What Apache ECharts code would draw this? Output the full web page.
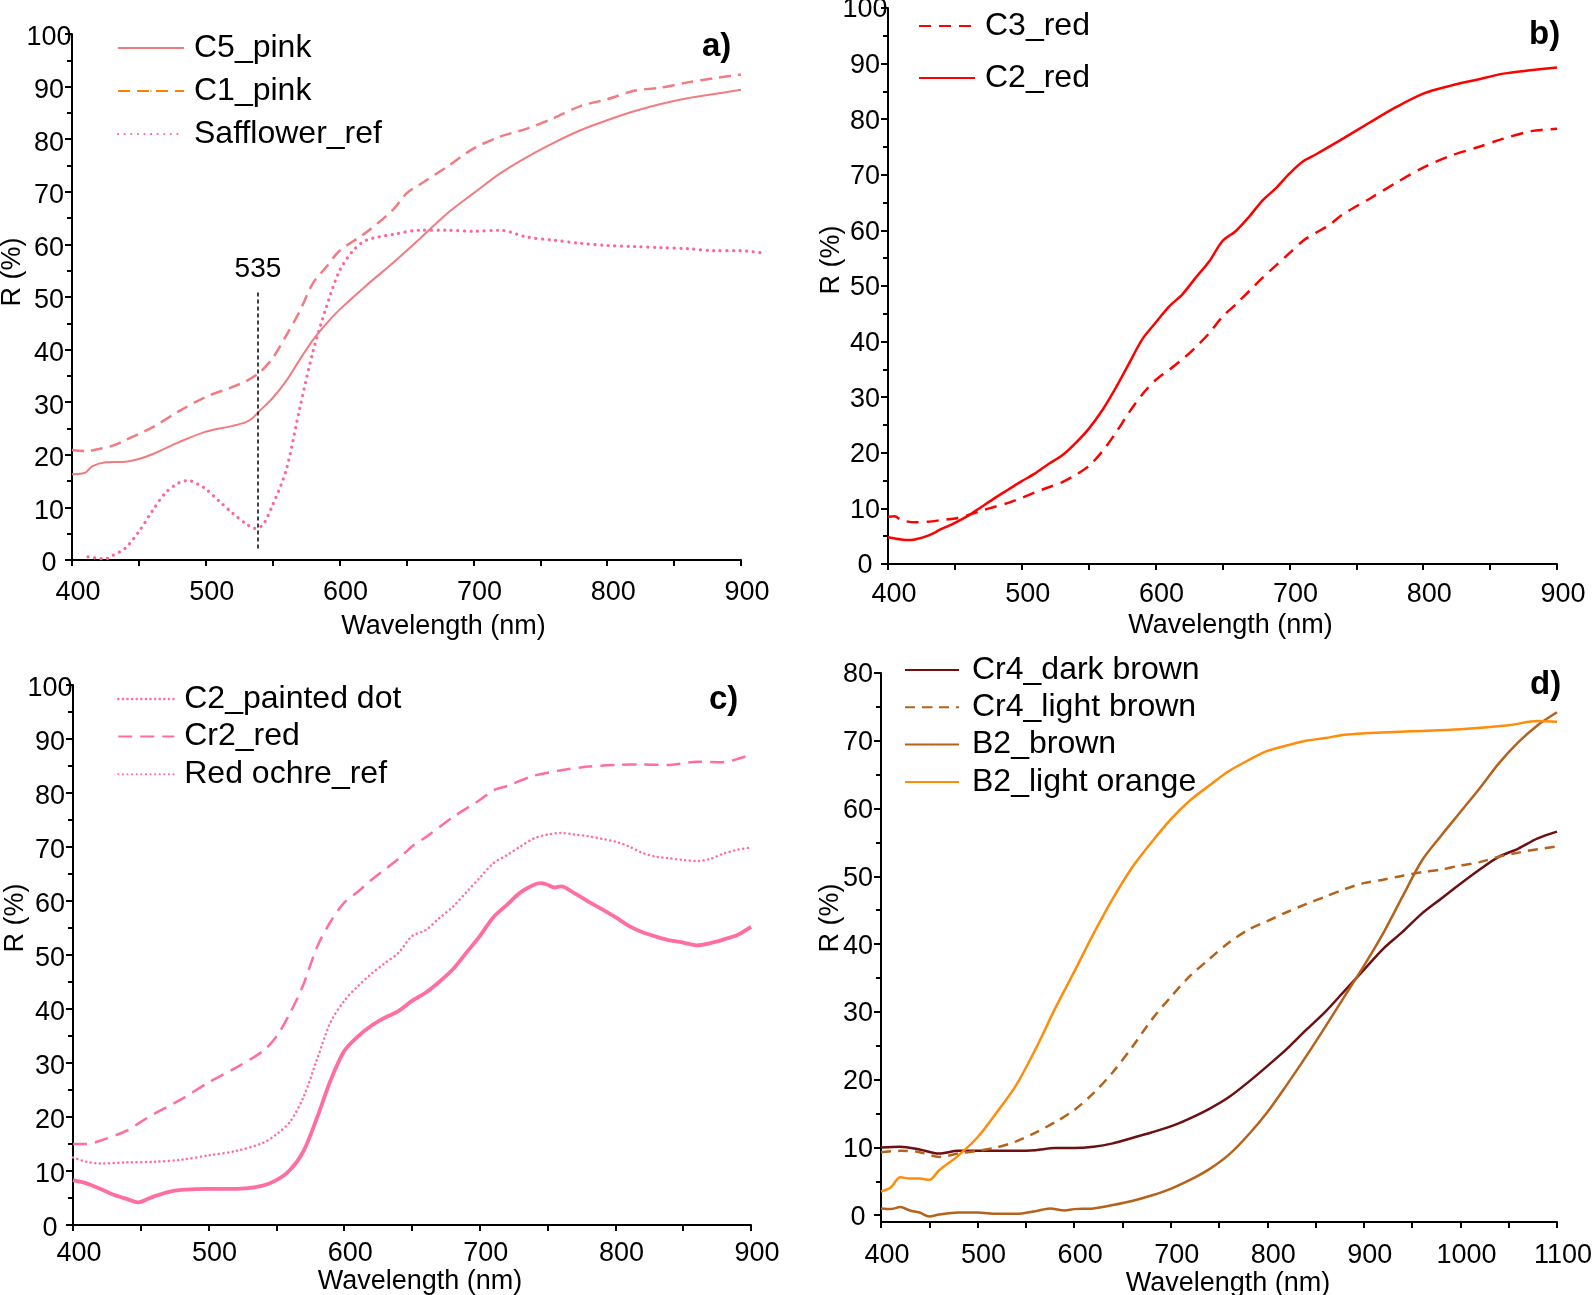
<!DOCTYPE html>
<html>
<head>
<meta charset="utf-8">
<script src="https://cdn.jsdelivr.net/npm/echarts@6/dist/echarts.min.js"></script>
<style>
html,body{margin:0;padding:0;background:#fff;}
#chart{width:1594px;height:1295px;}
</style>
</head>
<body>
<div id="chart"></div>
<script>
// ---------- Panel a ----------
const A_C5_NM = [400,410,415,425,440,450,460,480,500,520,530,535,540,550,560,570,580,590,600,620,640,660,680,700,720,740,760,780,800,820,840,860,880,900];
const A_C5_R  = [16.3,16.6,17.8,18.6,18.7,19.2,20.1,22.4,24.4,25.5,26.2,27,28.3,30.8,34,38,41.8,44.9,47.6,52.2,56.5,61.1,65.8,69.7,73.5,76.6,79.3,81.7,83.6,85.3,86.7,87.8,88.6,89.4];
const A_C1_NM = [400,410,420,430,440,460,480,500,520,530,540,550,560,570,580,590,600,620,640,650,660,680,700,720,740,760,780,800,820,840,860,880,900];
const A_C1_R  = [20.9,20.7,21.1,21.7,22.8,25.2,28.3,31,32.9,34,35.6,38.4,42.6,47.2,52.6,55.7,58.8,62.3,66.6,69.7,71.4,74.7,78.2,80.5,82,84,86.3,87.6,89.2,89.8,90.8,91.6,92.3];
const A_SAF_NM = [412,420,425,430,440,450,460,470,480,487,495,500,510,520,530,537,543,550,560,570,580,590,600,610,620,640,660,680,700,720,740,760,780,800,820,840,860,880,900,915];
const A_SAF_R  = [0.6,0.3,0.2,0.8,2.3,5.4,9.3,12.8,14.7,15.1,14.3,13.5,11.2,8.9,6.9,6,6.8,10.5,17,28.6,39.5,48,55,58.8,60.8,61.9,62.7,62.7,62.5,62.7,61.4,60.8,60.2,59.8,59.6,59.4,59.2,58.8,58.8,58.4];
const A_MARK_LABEL = '535';
const A_MARK_NM = 539;          // where the marker is drawn in the picture
const A_MARK_R  = [2.2, 51.4];

// ---------- Panel b ----------
const B_C2_NM = [400,410,415,420,430,440,450,460,470,480,490,500,510,520,530,540,550,560,570,580,590,600,610,620,630,640,650,660,670,680,690,700,710,720,740,760,780,800,820,840,860,880,900];
const B_C2_R  = [4.8,4.4,4.3,4.4,5.1,6.3,7.4,8.7,10.3,11.9,13.4,14.9,16.3,18,19.5,21.7,24.3,27.6,31.6,36,40.4,43.4,46.3,48.5,51.5,54.4,58.1,59.9,62.5,65.4,67.6,70.2,72.4,73.7,76.5,79.4,82.2,84.6,86,87.1,88.2,88.8,89.3];
const B_C3_NM = [400,405,410,420,430,440,450,460,470,480,490,500,510,520,530,540,550,560,570,580,590,600,610,620,630,640,650,660,670,680,690,700,710,720,730,740,760,780,800,820,840,860,880,900];
const B_C3_R  = [8.5,8.6,7.9,7.5,7.6,7.9,8.2,8.8,9.6,10.3,11,11.9,12.9,13.8,14.7,16,17.6,20.2,23.5,27.2,30.5,33.1,34.9,36.8,39,41.5,44.5,46.7,49.1,51.5,53.7,55.9,58.1,59.6,61,62.9,65.7,68.6,71.3,73.4,74.9,76.5,77.8,78.3];

// ---------- Panel c ----------
const C_DOT_NM = [400,410,420,430,440,448,455,460,470,480,500,520,540,550,560,570,580,590,600,610,620,630,640,650,660,670,680,690,700,710,720,730,740,745,750,755,760,770,780,790,800,810,820,830,840,850,860,870,880,890,900];
const C_DOT_R  = [8.3,7.7,6.7,5.6,4.8,4.2,4.8,5.3,6.1,6.5,6.7,6.7,7.3,8.3,10.2,13.7,19.9,26.8,32.2,34.9,36.9,38.4,39.6,41.5,43,45,47.3,50.4,53.5,57,59.3,61.6,63,63.3,63,62.5,62.7,61.4,59.9,58.5,57,55.4,54.2,53.4,52.7,52.3,51.8,52.2,52.9,53.7,55.2];
const C_CR2_NM = [400,410,420,440,450,460,480,500,520,540,550,560,570,580,590,600,610,620,640,650,660,680,700,710,720,740,760,780,800,820,840,860,880,890,900];
const C_CR2_R  = [15,15,15.6,17.5,19.1,20.6,23.3,26.4,29.1,32.2,34.9,39.2,44.6,51.5,56.2,59.7,61.7,63.9,67.8,70.1,71.8,75.5,78.7,80.5,81.3,83.2,84.2,84.9,85.2,85.3,85.2,85.8,85.7,86.3,87.1];
const C_OCH_NM = [400,410,420,440,460,480,500,520,540,550,560,570,580,590,600,610,620,630,640,650,660,670,680,690,700,710,720,730,740,750,760,770,780,790,800,810,820,830,840,850,860,870,880,890,900];
const C_OCH_R  = [12.5,11.7,11.4,11.6,11.7,12.1,12.9,13.7,15.2,16.8,19.1,23.7,30.7,37.6,41.5,44.2,46.5,48.5,50.4,53.5,54.6,56.8,58.9,61.6,64.3,67,68.5,70.1,71.6,72.3,72.6,72.3,72,71.5,71,70.1,68.9,68.2,67.9,67.6,67.4,67.8,68.8,69.5,69.9];

// ---------- Panel d ----------
const D_NM = [400,420,440,460,480,500,520,540,560,580,600,620,640,660,680,700,720,740,760,780,800,820,840,860,880,900,920,940,960,980,1000,1020,1040,1060,1080,1100];
const D_DARK_R  = [10,10.1,9.7,9.1,9.5,9.5,9.5,9.5,9.6,9.9,9.9,10.1,10.6,11.4,12.2,13.1,14.3,15.7,17.4,19.6,22,24.5,27.3,30,33.1,36.2,39.3,41.8,44.5,46.7,48.9,51,52.9,54.1,55.6,56.6];
const D_LIGHT_R = [9.3,9.5,9.3,8.6,9.1,9.5,10,10.9,12.2,13.7,15.5,18,21.1,24.8,28.8,32.2,35.3,37.8,40.2,42.1,43.4,44.7,45.9,47,48.1,49,49.5,50.1,50.6,51,51.6,52.1,52.9,53.5,54,54.4];
const D_BROWN_NM = [400,410,420,430,440,450,460,480,500,520,540,560,575,590,600,620,640,660,680,700,720,740,760,780,800,820,840,860,880,900,920,940,960,980,1000,1020,1040,1060,1080,1100];
const D_BROWN_R  = [1.0,0.9,1.2,0.7,0.4,-0.2,0.1,0.4,0.4,0.2,0.2,0.6,1.0,0.7,0.9,1.0,1.5,2.1,2.9,3.9,5.2,6.8,8.9,11.8,15.2,19.2,23.4,27.8,32.3,36.8,41.6,47.0,52.3,56.0,59.5,63,66.7,69.8,72.3,74.2];
const D_ORANGE_NM = [400,410,420,430,440,450,460,480,500,520,540,560,580,600,620,640,660,680,700,720,740,760,780,800,820,840,860,880,900,950,1000,1050,1080,1100];
const D_ORANGE_R  = [3.5,4.1,5.6,5.4,5.4,5.2,6.6,8.8,11.5,15.2,19.2,24.5,30.4,35.9,41.5,46.7,51.3,55,58.4,61.2,63.4,65.5,67.1,68.5,69.3,70,70.4,70.9,71.1,71.4,71.7,72.3,72.9,72.8];

const Y_TICKS_80 = [0,10,20,30,40,50,60,70,80];
const Y_MINOR_80 = [5,15,25,35,45,55,65,75];

const zip = (xs, ys) => xs.map((x, i) => [x, ys[i]]);
const FONT = "'Liberation Sans', Arial, sans-serif";

// grid geometry in px
const G = [
  {l:72, r:741, t:34, b:560},
  {l:888, r:1557, t:8, b:564},
  {l:73, r:751, t:685, b:1225},
  {l:881, r:1557, t:673, b:1222}
];
const A_XMAX = 900, A_XEXT = 915;   // panel a axis end, and extent of the overflowing safflower trace
const grids = G.map(g => ({left:g.l, top:g.t, width:g.r-g.l, height:g.b-g.t, containLabel:false, outerBoundsMode:'none'}));
// overlay grid for panel a allowing the reference curve to run past the axis end
grids.push({left:G[0].l, top:G[0].t, width:(G[0].r-G[0].l)*(A_XEXT-400)/(A_XMAX-400), height:G[0].b-G[0].t, containLabel:false, outerBoundsMode:'none'});

const axisLineStyle = {show:true, onZero:false, lineStyle:{color:'#000', width:2}};

function xAxis(gi, max, namePadLeft, nameGap, labelMargin) {
  return {
    type:'value', gridIndex:gi, min:400, max:max, interval:50,
    axisLine: axisLineStyle,
    axisTick: {show:true, length:6, lineStyle:{color:'#000', width:2}},
    splitLine: {show:false},
    axisLabel: {color:'#000', fontSize:27, fontFamily:FONT, margin:labelMargin, padding:[0,0,0,12],
      formatter: v => (v % 100 === 0 ? String(v) : '')},
    name: 'Wavelength (nm)', nameLocation:'middle', nameGap:nameGap,
    nameTextStyle: {color:'#000', fontSize:27, fontFamily:FONT, padding:[0,0,0,namePadLeft]}
  };
}
function yAxis100(gi, shift) {
  return {
    type:'value', gridIndex:gi, min:0, max:100, interval:10,
    axisLine: axisLineStyle,
    axisTick: {show:true, length:7, lineStyle:{color:'#000', width:2}},
    minorTick: {show:true, splitNumber:2, length:5, lineStyle:{color:'#000', width:2}},
    splitLine: {show:false}, minorSplitLine:{show:false},
    axisLabel: {color:'#000', fontSize:27, fontFamily:FONT, margin:23, align:'center', verticalAlign:'top', lineHeight:shift*2}
  };
}
const legendText = {fontSize:32, color:'#000', fontFamily:FONT, padding:[0,0,0,5]};
const titleStyle = {fontSize:33, fontWeight:'bold', color:'#000', fontFamily:FONT};
const yName = (x, y) => ({type:'text', x:x, y:y, rotation:Math.PI/2,
  style:{text:'R (%)', fontSize:27, fontFamily:FONT, fill:'#000', align:'center', verticalAlign:'middle'}});

const option = {
  animation: false,
  backgroundColor: '#fff',
  grid: grids,
  title: [
    {text:'a)', left:702, top:30, padding:0, textStyle:titleStyle},
    {text:'b)', left:1529, top:18, padding:0, textStyle:titleStyle},
    {text:'c)', left:709, top:683, padding:0, textStyle:titleStyle},
    {text:'d)', left:1530, top:668, padding:0, textStyle:titleStyle}
  ],
  legend: [
    {left:117, top:32, orient:'vertical', padding:0, itemWidth:66, itemHeight:2, itemGap:11, textStyle:legendText,
     data:['C5_pink', {name:'C1_pink', lineStyle:{color:'#FF8000'}, itemStyle:{color:'#FF8000'}}, 'Safflower_ref']},
    {left:918, top:10, orient:'vertical', padding:0, itemWidth:56, itemHeight:2, itemGap:20, textStyle:legendText,
     data:['C3_red','C2_red']},
    {left:117, top:683, orient:'vertical', padding:0, itemWidth:56, itemHeight:2, itemGap:5.6, textStyle:legendText,
     data:[{name:'C2_painted dot', lineStyle:{type:[0.1,4.5], width:2.5, cap:'round'}}, 'Cr2_red', 'Red ochre_ref']},
    {left:904, top:654, orient:'vertical', padding:0, itemWidth:54, itemHeight:2, itemGap:5.3,
     textStyle:Object.assign({}, legendText, {padding:[0,0,0,8]}),
     data:['Cr4_dark brown','Cr4_light brown','B2_brown','B2_light orange']}
  ],
  xAxis: [
    xAxis(0, A_XMAX, 74, 53, 19),
    xAxis(1, 900, 16, 48, 17),
    xAxis(2, 900, 16, 41, 15),
    xAxis(3, 1100, 18, 42, 20),
    {type:'value', gridIndex:4, min:400, max:A_XEXT, show:false}
  ],
  yAxis: [
    yAxis100(0, 4),
    yAxis100(1, 2),
    yAxis100(2, 4),
    {
      type:'value', gridIndex:3, min:-1, max:80,
      axisLine: axisLineStyle,
      axisTick: {show:true, length:7, customValues:Y_TICKS_80, lineStyle:{color:'#000', width:2}},
      splitLine: {show:false},
      axisLabel: {color:'#000', fontSize:27, fontFamily:FONT, margin:23, align:'center', verticalAlign:'top', lineHeight:4, customValues:Y_TICKS_80}
    },
    {
      type:'value', gridIndex:3, min:-1, max:80, position:'left',
      axisLine: {show:false},
      axisTick: {show:true, length:5, customValues:Y_MINOR_80, lineStyle:{color:'#000', width:2}},
      splitLine: {show:false},
      axisLabel: {show:false, customValues:Y_MINOR_80}
    },
    {type:'value', gridIndex:4, min:0, max:100, show:false}
  ],
  graphic: [ yName(13, 272), yName(832, 260), yName(16, 918), yName(831, 918) ],
  series: [
    // a
    {name:'C5_pink', type:'line', xAxisIndex:0, yAxisIndex:0, data:zip(A_C5_NM, A_C5_R), showSymbol:false, symbol:'none', smooth:0.3,
     lineStyle:{color:'#F27B80', width:2}, itemStyle:{color:'#F27B80'}},
    {name:'C1_pink', type:'line', xAxisIndex:0, yAxisIndex:0, data:zip(A_C1_NM, A_C1_R), showSymbol:false, symbol:'none', smooth:0.3,
     lineStyle:{color:'#F27B80', width:2.5, type:[12,7]}, itemStyle:{color:'#F27B80'}},
    {name:'Safflower_ref', type:'line', xAxisIndex:4, yAxisIndex:5, data:zip(A_SAF_NM, A_SAF_R), showSymbol:false, symbol:'none', smooth:0.3,
     lineStyle:{color:'#FF6699', width:3.2, type:[0.1,6.5], cap:'round'}, itemStyle:{color:'#FF6699'},
     markLine:{silent:true, symbol:'none', animation:false,
       lineStyle:{color:'#000', width:1.5, type:[4,3]},
       label:{show:true, position:'end', formatter:A_MARK_LABEL, color:'#000', fontSize:28, fontFamily:FONT, distance:6},
       data:[[{coord:[A_MARK_NM, A_MARK_R[0]]}, {coord:[A_MARK_NM, A_MARK_R[1]]}]]}},
    // b
    {name:'C3_red', type:'line', xAxisIndex:1, yAxisIndex:1, data:zip(B_C3_NM, B_C3_R), showSymbol:false, symbol:'none', smooth:0.3,
     lineStyle:{color:'#FF0000', width:2.5, type:[12,8]}, itemStyle:{color:'#FF0000'}},
    {name:'C2_red', type:'line', xAxisIndex:1, yAxisIndex:1, data:zip(B_C2_NM, B_C2_R), showSymbol:false, symbol:'none', smooth:0.3,
     lineStyle:{color:'#FF0000', width:2.5}, itemStyle:{color:'#FF0000'}},
    // c
    {name:'C2_painted dot', type:'line', xAxisIndex:2, yAxisIndex:2, data:zip(C_DOT_NM, C_DOT_R), showSymbol:false, symbol:'none', smooth:0.3,
     lineStyle:{color:'#FF6E9E', width:3.8}, itemStyle:{color:'#FF6E9E'}},
    {name:'Cr2_red', type:'line', xAxisIndex:2, yAxisIndex:2, data:zip(C_CR2_NM, C_CR2_R), showSymbol:false, symbol:'none', smooth:0.3,
     lineStyle:{color:'#FF6E9E', width:2.5, type:[14,8]}, itemStyle:{color:'#FF6E9E'}},
    {name:'Red ochre_ref', type:'line', xAxisIndex:2, yAxisIndex:2, data:zip(C_OCH_NM, C_OCH_R), showSymbol:false, symbol:'none', smooth:0.3,
     lineStyle:{color:'#FF6E9E', width:2.5, type:[0.1,4.5], cap:'round'}, itemStyle:{color:'#FF6E9E'}},
    // d
    {name:'Cr4_dark brown', type:'line', xAxisIndex:3, yAxisIndex:3, data:zip(D_NM, D_DARK_R), showSymbol:false, symbol:'none', smooth:0.3,
     lineStyle:{color:'#6E0F12', width:2.5}, itemStyle:{color:'#6E0F12'}},
    {name:'Cr4_light brown', type:'line', xAxisIndex:3, yAxisIndex:3, data:zip(D_NM, D_LIGHT_R), showSymbol:false, symbol:'none', smooth:0.3,
     lineStyle:{color:'#B5621B', width:2.5, type:[10,7]}, itemStyle:{color:'#B5621B'}},
    {name:'B2_brown', type:'line', xAxisIndex:3, yAxisIndex:3, data:zip(D_BROWN_NM, D_BROWN_R), showSymbol:false, symbol:'none', smooth:0.3,
     lineStyle:{color:'#B5621B', width:2.5}, itemStyle:{color:'#B5621B'}},
    {name:'B2_light orange', type:'line', xAxisIndex:3, yAxisIndex:3, data:zip(D_ORANGE_NM, D_ORANGE_R), showSymbol:false, symbol:'none', smooth:0.3,
     lineStyle:{color:'#FF8C0A', width:2.5}, itemStyle:{color:'#FF8C0A'}}
  ]
};

const chart = echarts.init(document.getElementById('chart'), null, {renderer:'canvas'});
chart.setOption(option);
</script>
</body>
</html>
